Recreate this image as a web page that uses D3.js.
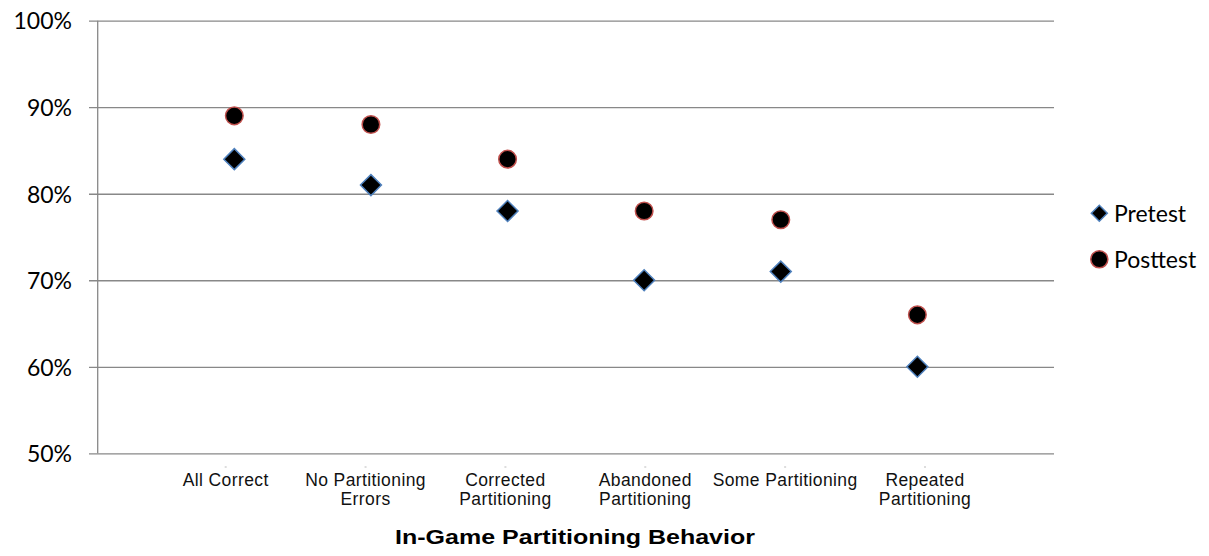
<!DOCTYPE html>
<html>
<head>
<meta charset="utf-8">
<script src="https://cdn.jsdelivr.net/npm/d3@7"></script>
<style>
  html, body { margin: 0; padding: 0; background: #fff; }
  svg { display: block; }
</style>
</head>
<body>
<svg id="chart" width="1209" height="556"></svg>
<script>
// Mean test scores grouped by in-game partitioning behavior
const categories = [
  ["All Correct"],
  ["No Partitioning", "Errors"],
  ["Corrected", "Partitioning"],
  ["Abandoned", "Partitioning"],
  ["Some Partitioning"],
  ["Repeated", "Partitioning"]
];
const pretest  = [0.84, 0.81, 0.78, 0.70, 0.71, 0.60];
const posttest = [0.89, 0.88, 0.84, 0.78, 0.77, 0.66];
const yTicks = [0.5, 0.6, 0.7, 0.8, 0.9, 1.0];
const seriesNames = ["Pretest", "Posttest"];

const svg = d3.select("#chart");

const plotLeft = 97.7, plotRight = 1054, plotTop = 20.7, plotBottom = 453.3, tickLeft = 89;

// x positions 1..6 on a 0..7 value axis
const x = d3.scaleLinear().domain([0, 7]).range([plotLeft, plotRight]);
const y = d3.scaleLinear().domain([0.5, 1.0]).range([plotBottom, plotTop]);
// category label positions
const xLabel = d3.scalePoint().domain(d3.range(categories.length)).range([225.7, 925]);

const gridColor = "#888888";

// horizontal gridlines + percent labels
const yAxis = d3.axisLeft(y)
  .tickValues(yTicks)
  .tickSize(plotRight - tickLeft)
  .tickPadding(17)
  .tickFormat(d3.format(".0%"));

const gy = svg.append("g")
  .attr("transform", `translate(${plotRight},0)`)
  .call(yAxis);
gy.select(".domain").remove();
gy.selectAll(".tick line").attr("stroke", gridColor).attr("stroke-width", 1.3);
gy.selectAll(".tick text")
  .attr("fill", "#000")
  .attr("font-family", "Lato, 'Noto Sans', sans-serif")
  .attr("font-size", 23)
  .attr("dy", "0.36em");

// vertical axis line
svg.append("line")
  .attr("x1", plotLeft).attr("x2", plotLeft)
  .attr("y1", y(1.0)).attr("y2", y(0.5))
  .attr("stroke", gridColor).attr("stroke-width", 1.3);

// category labels
const labelG = svg.append("g")
  .attr("font-family", "'Liberation Sans', Arial, sans-serif")
  .attr("font-size", 17.5)
  .attr("fill", "#111")
  .attr("text-anchor", "middle");

categories.forEach((lines, i) => {
  const cx = xLabel(i);
  labelG.append("line")
    .attr("x1", cx - 1).attr("x2", cx + 1)
    .attr("y1", 467).attr("y2", 467)
    .attr("stroke", "#bbb").attr("stroke-width", 1);
  const t = labelG.append("text").attr("x", cx).attr("y", 486).attr("letter-spacing", 0.4);
  lines.forEach((ln, j) => {
    t.append("tspan").attr("x", cx).attr("dy", j === 0 ? 0 : 19).text(ln);
  });
});

// axis title
svg.append("text")
  .attr("x", 575).attr("y", 543.5)
  .attr("text-anchor", "middle")
  .attr("font-family", "'Liberation Sans', Arial, sans-serif")
  .attr("font-weight", "bold")
  .attr("font-size", 20.5)
  .attr("textLength", 360)
  .attr("lengthAdjust", "spacingAndGlyphs")
  .attr("fill", "#000")
  .text("In-Game Partitioning Behavior");

// markers
const diamond = d3.symbol().type(d3.symbolSquare).size(220);
const circle = d3.symbol().type(d3.symbolCircle).size(243);
const blue = "#4f81bd", red = "#c0504d";

svg.append("g").selectAll("path")
  .data(pretest)
  .join("path")
  .attr("d", diamond)
  .attr("transform", (d, i) => `translate(${x(i + 1)},${y(d)}) rotate(45)`)
  .attr("fill", "#000").attr("stroke", blue).attr("stroke-width", 1.5);

svg.append("g").selectAll("path")
  .data(posttest)
  .join("path")
  .attr("d", circle)
  .attr("transform", (d, i) => `translate(${x(i + 1)},${y(d)})`)
  .attr("fill", "#000").attr("stroke", red).attr("stroke-width", 1.5);

// legend
const legend = svg.append("g")
  .attr("font-family", "Lato, 'Noto Sans', sans-serif")
  .attr("font-size", 23)
  .attr("fill", "#000");
const legendY = [213.3, 259.3];
legend.append("path")
  .attr("d", d3.symbol().type(d3.symbolSquare).size(128)())
  .attr("transform", `translate(1099.3,${legendY[0]}) rotate(45)`)
  .attr("fill", "#000").attr("stroke", blue).attr("stroke-width", 1.5);
legend.append("path")
  .attr("d", d3.symbol().type(d3.symbolCircle).size(230)())
  .attr("transform", `translate(1099.3,${legendY[1]})`)
  .attr("fill", "#000").attr("stroke", red).attr("stroke-width", 1.5);
seriesNames.forEach((name, i) => {
  legend.append("text")
    .attr("x", 1114).attr("y", legendY[i]).attr("dy", "0.36em")
    .text(name);
});
</script>
</body>
</html>
